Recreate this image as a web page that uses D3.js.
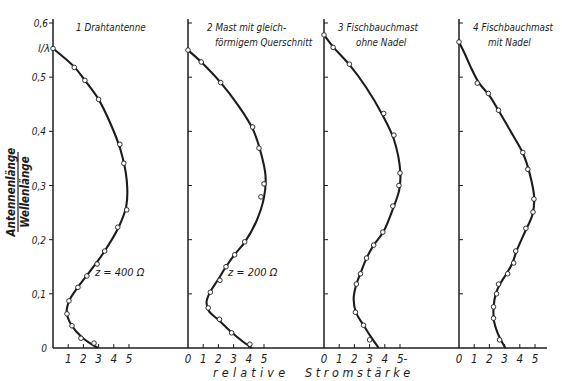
<!DOCTYPE html>
<html>
<head>
<meta charset="utf-8">
<script src="https://cdn.jsdelivr.net/npm/d3@7"></script>
<style>
  body { margin: 0; background: #fff; }
  svg text { font-family: "Liberation Sans Narrow", "DejaVu Sans Condensed", sans-serif; font-style: italic; fill: #1c1c1c; }
</style>
</head>
<body>
<svg id="chart" width="562" height="381"></svg>
<script>
// current (relative Stromstärke) vs height (Antennenlänge / Wellenlänge)
const titles = [
  ["1  Drahtantenne"],
  ["2  Mast mit gleich-", "förmigem Querschnitt"],
  ["3  Fischbauchmast", "ohne Nadel"],
  ["4  Fischbauchmast", "mit Nadel"]
];
const xTickLabels = [
  ["", "1", "2", "3", "4", "5"],
  ["0", "1", "2", "3", "4", "5"],
  ["0", "1", "2", "3", "4", "5-"],
  ["0", "1", "2", "3", "4", "5"]
];
const yTicks = [0, 0.1, 0.2, 0.3, 0.4, 0.5, 0.6];
const yTickLabels = ["0", "0,1", "0,2", "0,3", "0,4", "0,5", "0,6"];
const impedance = ["z = 400 Ω", "z = 200 Ω", "", ""];

// smooth curves, [current, height]
const curve1 = [[0,0.553],[1.4,0.519],[2.1,0.494],[3.0,0.459],[3.8,0.413],[4.45,0.365],[4.85,0.31],[4.82,0.262],[4.3,0.222],[3.4,0.179],[2.85,0.157],[2.2,0.133],[1.6,0.111],[1.08,0.088],[0.9,0.066],[1.2,0.043],[1.9,0.02],[2.95,0]];
const curve2 = [[0,0.55],[0.87,0.528],[2.15,0.49],[3.3,0.448],[4.25,0.405],[4.75,0.365],[5.1,0.318],[5.0,0.278],[4.5,0.234],[3.75,0.196],[3.05,0.172],[2.5,0.15],[1.95,0.125],[1.45,0.103],[1.22,0.085],[1.38,0.068],[2.0,0.052],[2.9,0.028],[3.6,0.012],[4.2,0]];
const curve3 = [[0,0.578],[0.6,0.556],[1.67,0.523],[2.8,0.48],[3.85,0.43],[4.6,0.385],[5.02,0.325],[4.95,0.292],[4.55,0.258],[3.9,0.214],[3.27,0.19],[2.8,0.166],[2.4,0.138],[2.1,0.115],[1.95,0.09],[2.1,0.066],[2.6,0.042],[3.1,0.02],[3.6,0]];
const curve4 = [[0,0.565],[0.35,0.545],[0.75,0.52],[1.3,0.49],[2.0,0.466],[2.65,0.436],[3.5,0.395],[4.2,0.36],[4.65,0.322],[4.95,0.276],[4.82,0.245],[4.35,0.215],[3.8,0.18],[3.5,0.156],[3.1,0.136],[2.7,0.118],[2.42,0.1],[2.28,0.076],[2.3,0.05],[2.55,0.027],[3.05,0]];

// measured points, [current, height]
const points1 = [[0,0.553],[1.4,0.518],[2.1,0.494],[3.0,0.459],[4.4,0.376],[4.66,0.341],[4.85,0.255],[4.26,0.223],[3.4,0.179],[2.9,0.155],[2.23,0.133],[1.64,0.112],[1.05,0.087],[0.92,0.063],[1.25,0.041],[1.84,0.018],[2.7,0.009]];
const points2 = [[0,0.55],[0.87,0.528],[2.15,0.49],[4.25,0.408],[4.67,0.369],[5.0,0.303],[4.8,0.279],[3.73,0.196],[3.07,0.172],[2.5,0.15],[2.1,0.125],[1.47,0.103],[1.33,0.074],[2.07,0.053],[2.87,0.028],[4.07,0.007]];
const points3 = [[0,0.578],[0.6,0.555],[1.67,0.524],[3.93,0.433],[4.6,0.393],[5.0,0.323],[4.93,0.30],[4.53,0.262],[3.87,0.214],[3.27,0.19],[2.8,0.166],[2.4,0.137],[2.13,0.118],[2.07,0.066],[2.6,0.042],[3.0,0.015]];
const points4 = [[0,0.565],[1.2,0.489],[1.93,0.47],[2.6,0.439],[4.2,0.361],[4.53,0.33],[4.93,0.275],[4.87,0.251],[4.4,0.221],[3.73,0.179],[3.6,0.157],[3.2,0.137],[2.6,0.118],[2.47,0.1],[2.27,0.076],[2.27,0.055],[2.67,0.015]];

const curves = [curve1, curve2, curve3, curve4];
const pointSets = [points1, points2, points3, points4];

const ink = "#1c1c1c";
const axisLeft = [53, 188, 324, 459];
const unit = 15.2;
const baseY = 348;

const svg = d3.select("#chart");
const y = d3.scaleLinear().domain([0, 0.6]).range([baseY, 23]);

// common baseline
svg.append("line")
  .attr("x1", axisLeft[0]).attr("x2", 547)
  .attr("y1", baseY).attr("y2", baseY)
  .attr("stroke", ink).attr("stroke-width", 1.6);

curves.forEach((c, i) => {
  const x = d3.scaleLinear().domain([0, 5]).range([axisLeft[i], axisLeft[i] + 5 * unit]);
  const g = svg.append("g");

  // vertical axis
  g.append("line")
    .attr("x1", x(0)).attr("x2", x(0))
    .attr("y1", baseY).attr("y2", 19)
    .attr("stroke", ink).attr("stroke-width", 1.5);

  // height ticks: outward on the first panel, inward on the others
  const dir = i == 0 ? -1 : 1;
  g.selectAll(".ytick")
    .data(yTicks.slice(1))
    .join("line")
    .attr("x1", x(0)).attr("x2", x(0) + dir * 4)
    .attr("y1", d => y(d)).attr("y2", d => y(d))
    .attr("stroke", ink).attr("stroke-width", 1);

  // current ticks on the baseline
  g.selectAll(".xtick")
    .data(d3.range(1, 6))
    .join("line")
    .attr("x1", d => x(d)).attr("x2", d => x(d))
    .attr("y1", baseY).attr("y2", baseY - 4)
    .attr("stroke", ink).attr("stroke-width", 1);

  g.selectAll(".xlabel")
    .data(xTickLabels[i])
    .join("text")
    .attr("x", (d, k) => x(k))
    .attr("y", baseY + 15)
    .attr("text-anchor", (d, k) => k == 5 && d.length > 1 ? "start" : "middle")
    .attr("dx", (d, k) => k == 5 && d.length > 1 ? -3 : 0)
    .attr("font-size", 11.5)
    .text(d => d);

  // panel title
  const tx = i == 0 ? x(0) + 23 : i == 1 ? x(0) + 19 : x(0) + 14;
  titles[i].forEach((line, k) => {
    g.append("text")
      .attr("x", k == 0 ? tx : tx + (i == 1 ? 8 : i == 2 ? 18 : 15))
      .attr("y", 31 + k * 15)
      .attr("font-size", 9.8)
      .text(line);
  });

  // fitted curve
  g.append("path")
    .datum(c)
    .attr("d", d3.line().x(d => x(d[0])).y(d => y(d[1])).curve(d3.curveCatmullRom.alpha(0.5)))
    .attr("fill", "none")
    .attr("stroke", ink)
    .attr("stroke-width", 2.1)
    .attr("stroke-linejoin", "round");

  // measured points
  g.selectAll("circle")
    .data(pointSets[i])
    .join("circle")
    .attr("cx", d => x(d[0]))
    .attr("cy", d => y(d[1]))
    .attr("r", 2.3)
    .attr("fill", "#fff")
    .attr("stroke", ink)
    .attr("stroke-width", 0.9);

  if (impedance[i]) {
    g.append("text")
      .attr("x", x(0) + (i == 0 ? 42 : 40))
      .attr("y", 276)
      .attr("font-size", 11)
      .text(impedance[i]);
  }
});

// height labels on the first axis
svg.selectAll(".ylabel")
  .data(yTicks)
  .join("text")
  .attr("x", d => d == 0 ? 47 : d == 0.6 ? 48 : 46)
  .attr("y", d => y(d) + 4)
  .attr("text-anchor", "end")
  .attr("font-size", 10)
  .text((d, k) => yTickLabels[k]);

svg.append("text")
  .attr("x", 50).attr("y", y(0.553) + 4)
  .attr("text-anchor", "end")
  .attr("font-size", 11)
  .text("l/λ");

// vertical axis title as a fraction
const yt = svg.append("g").attr("transform", "translate(18,192) rotate(-90)");
yt.append("text").attr("y", -3).attr("text-anchor", "middle")
  .attr("font-size", 11.5).attr("font-weight", "bold").text("Antennenlänge");
yt.append("line").attr("x1", -40).attr("x2", 40).attr("y1", 0).attr("y2", 0)
  .attr("stroke", ink).attr("stroke-width", 1.2);
yt.append("text").attr("y", 11).attr("text-anchor", "middle")
  .attr("font-size", 11.5).attr("font-weight", "bold").text("Wellenlänge");

// bottom title
svg.append("text")
  .attr("x", 213).attr("y", 377)
  .attr("font-size", 12.5)
  .attr("letter-spacing", 4.2)
  .text("relative");
svg.append("text")
  .attr("x", 305).attr("y", 377)
  .attr("font-size", 12.5)
  .attr("letter-spacing", 3.6)
  .text("Stromstärke");
</script>
</body>
</html>
